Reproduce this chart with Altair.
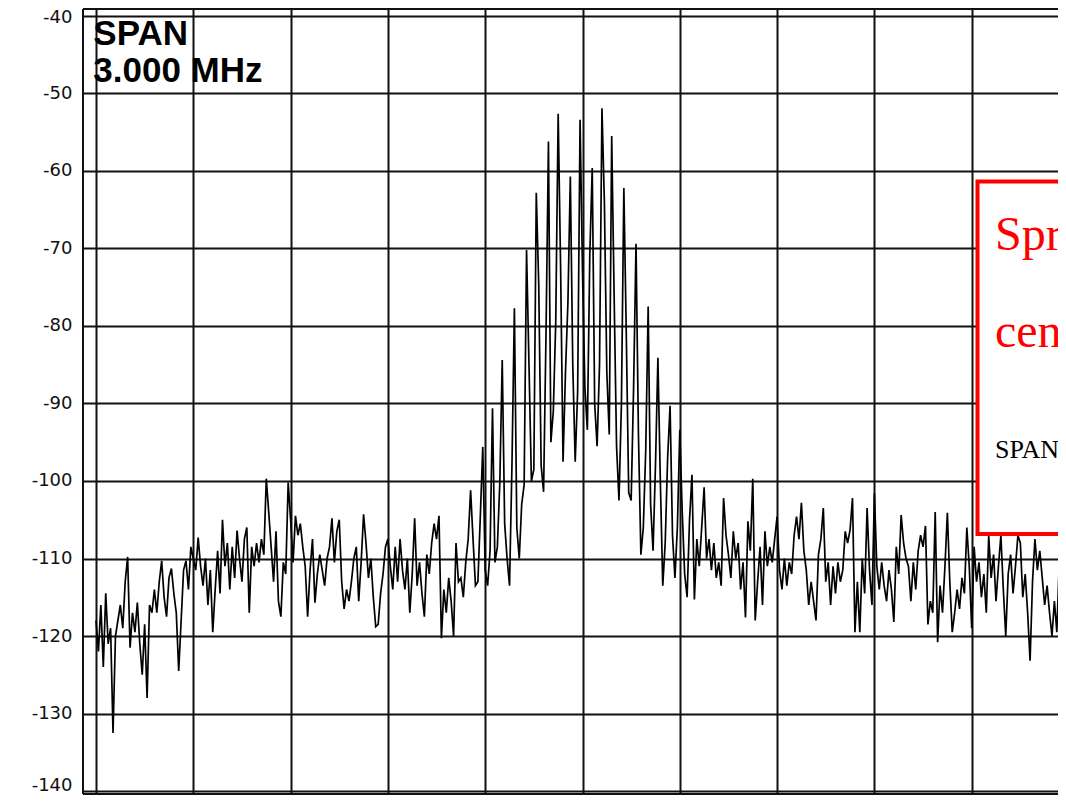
import altair as alt
import numpy as np
import pandas as pd

# Spectrum analyzer sweep: 401 points over a 3.000 MHz span (offset from centre, MHz)
span_start = -1.5
span_stop = 1.5
levels = [
    -118, -122, -116, -124, -114.5, -121, -119, -132.5, -120, -118,
    -116, -119, -113, -109.8, -121.5, -117, -119.5, -115.7, -121, -125,
    -118.5, -128, -116, -117, -114, -117, -113, -110.3, -115, -117.5,
    -112.5, -111.3, -114.5, -117, -124.5, -118, -111.5, -110.3, -114, -108.5,
    -110, -111.5, -107.3, -111, -113.5, -110, -116, -111.5, -119.5, -114,
    -109, -114.5, -105, -111, -108, -114, -108.5, -112.5, -106.4, -110,
    -113, -107.5, -106, -117, -108.5, -111, -108, -110.5, -107.5, -109.5,
    -99.7, -104, -108.5, -113, -106.5, -115.5, -117.5, -110.5, -112, -100.2,
    -105, -110.5, -104.5, -107, -105.5, -108.5, -111, -117.5, -111.5, -107.5,
    -115.7, -112, -109.5, -111.5, -113.5, -110, -108.5, -104.8, -110.5, -106.5,
    -105, -113, -116.5, -114, -115.5, -113, -110, -108.5, -115.5, -110.5,
    -104.3, -108, -112.5, -110, -115, -118.8, -118.5, -114.5, -112, -108.5,
    -107.5, -111, -114, -108.5, -113, -107.5, -111.5, -114, -110, -117,
    -112, -104.8, -113.5, -110.5, -114.5, -117.5, -109.5, -112, -108, -105.5,
    -107.5, -104.5, -120.3, -114, -117, -112.5, -115.5, -120, -108, -113,
    -112.5, -115, -110.5, -107.5, -101.2, -107.5, -113.5, -113, -104.5, -95.6,
    -111.5, -113.5, -109, -90.6, -110.5, -108.5, -100.3, -84.4, -105.5, -110,
    -113.5, -98, -77.7, -106, -110, -103, -100.5, -70.2, -85, -100,
    -98.5, -62.8, -74.5, -98, -101.4, -81, -56.2, -95, -91, -79.5,
    -52.6, -72.5, -97.5, -86, -77, -60.7, -85, -97.5, -88.5, -53.4,
    -73, -88, -93.4, -70.8, -59.6, -90, -95.5, -85, -51.9, -64,
    -86, -94, -55.5, -76, -95.5, -102.5, -90, -62.2, -81, -101.5,
    -102.5, -88, -69.4, -94, -109.5, -106, -96, -77.5, -103, -109,
    -98, -84.1, -100, -113.5, -108, -97, -90.3, -107, -112.5, -106,
    -93.4, -104, -112, -115, -105, -99.2, -115.3, -107.5, -111, -106,
    -100.8, -110, -107.5, -111.5, -108, -112.5, -110.5, -113.5, -102.2, -107,
    -109.5, -112.5, -106.5, -110, -108, -114, -110.5, -117.6, -105.2, -109,
    -99.7, -118, -113, -108.5, -116, -106.5, -111, -108.5, -110.5, -107.5,
    -104.6, -111.5, -114, -110, -113.5, -110.5, -112, -107, -104.6, -107.5,
    -102.8, -109, -111.5, -116, -113, -115.5, -118, -109.5, -107.5, -103.5,
    -113, -110.5, -116, -111, -114.5, -110.5, -113, -111.5, -106.5, -108,
    -106.3, -102.2, -119.5, -113, -119.5, -110, -114.5, -103.5, -111.5, -116,
    -101.6, -111, -114, -110.5, -113.5, -115.5, -111.5, -114, -118.2, -108.5,
    -112, -104.4, -108, -110, -111, -115.5, -110.5, -114, -109, -107,
    -108.5, -105.8, -118.5, -115.5, -117, -104, -120.8, -113.5, -117, -111,
    -104.1, -113, -119.5, -117, -114, -116.5, -112.5, -114.5, -106, -111,
    -119, -108.5, -113, -110.5, -115, -112, -117, -107.1, -112.5, -109.5,
    -115.5, -111, -107, -114, -120, -112, -109.5, -114.5, -111, -107,
    -108, -115, -112, -117, -123.2, -113, -107.5, -111.5, -109, -112.5,
    -116, -113.5, -117, -120, -115.5, -119.5, -110.5, -107.5, -114, -115.5,
    -112,
]
freqs = np.linspace(span_start, span_stop, len(levels))

y_ticks = [-40, -50, -60, -70, -80, -90, -100, -110, -120, -130, -140]
x_grid = [-1.5, -1.2, -0.9, -0.6, -0.3, 0.0, 0.3, 0.6, 0.9, 1.2]
span_lines = ["SPAN", "3.000 MHz"]
note_lines = ["Spread spectrum signal", "centered on the carrier", "SPAN 3.000 MHz"]

df = pd.DataFrame({"f": freqs, "dB": levels})

X_LO, X_HI = -1.5401, 1.4661
Y_LO, Y_HI = -140.387, -39.097
x_scale = alt.Scale(domain=[X_LO, X_HI], nice=False, zero=False)
y_scale = alt.Scale(domain=[Y_LO, Y_HI], nice=False, zero=False)

trace = alt.Chart(df).mark_line(color="black", strokeWidth=1.7, clip=True).encode(
    x=alt.X("f:Q", scale=x_scale,
            axis=alt.Axis(values=x_grid, labels=False, ticks=False, domain=False,
                          title=None, grid=True, gridColor="#111111", gridWidth=2, gridOpacity=1)),
    y=alt.Y("dB:Q", scale=y_scale,
            axis=alt.Axis(values=y_ticks, ticks=False, tickSize=0, domain=False, title=None,
                          grid=True, gridColor="#111111", gridWidth=2, gridOpacity=1,
                          labelFont="DejaVu Sans", labelFontSize=18, labelColor="#111111",
                          labelPadding=11, labelFlush=False, labelOverlap=False,
                          labelOffset={"condition": [
                              {"test": "datum.value == -140", "value": -5.5},
                              {"test": "datum.value == -40", "value": 1.5}],
                              "value": 0},
                          labelExpr="datum.value < 0 ? '-' + abs(datum.value) : '' + datum.value")),
)

one = pd.DataFrame({"k": [0]})

# outer frame (left, top, bottom) of the analyzer screen
frame_left = alt.Chart(one).mark_rule(color="#111111", strokeWidth=2).encode(
    x=alt.datum(X_LO), y=alt.datum(Y_LO), y2=alt.datum(Y_HI))
frame_top = alt.Chart(one).mark_rule(color="#111111", strokeWidth=2).encode(
    y=alt.datum(Y_HI), x=alt.datum(X_LO), x2=alt.datum(X_HI))
frame_bottom = alt.Chart(one).mark_rule(color="#111111", strokeWidth=2).encode(
    y=alt.datum(Y_LO), x=alt.datum(X_LO), x2=alt.datum(X_HI))

box = alt.Chart(one).mark_rect(
    fill="white", stroke="#ff0000", strokeWidth=4
).encode(
    x=alt.datum(1.2179), x2=alt.datum(1.9),
    y=alt.datum(-61.355), y2=alt.datum(-106.84),
)


def text_layer(s, x, y, **kw):
    return alt.Chart(pd.DataFrame({"t": [s]})).mark_text(
        align="left", baseline="alphabetic", **kw
    ).encode(x=alt.datum(x), y=alt.datum(y), text="t:N")


span1 = text_layer(span_lines[0], -1.5083, -43.74, font="Liberation Sans", fontWeight="bold",
                   fontSize=35, color="black")
span2 = text_layer(span_lines[1], -1.5083, -48.52, font="Liberation Sans", fontWeight="bold",
                   fontSize=35, color="black")
note1 = text_layer(note_lines[0], 1.2718, -70.19, font="Liberation Serif", fontSize=48, color="#ff0000")
note2 = text_layer(note_lines[1], 1.2718, -82.67, font="Liberation Serif", fontSize=48, color="#ff0000")
note3 = text_layer(note_lines[2], 1.2718, -97.07, font="Liberation Serif", fontSize=26, color="black")

chart = alt.layer(
    trace, frame_left, frame_top, frame_bottom, box, span1, span2, note1, note2, note3
).properties(
    width=975,
    height=785,
    autosize=alt.AutoSizeParams(type="none"),
    padding={"left": 75, "top": 1, "right": 0, "bottom": 1},
    background="white",
).configure_view(stroke=None)

chart.save("out.html", embed_options={"renderer": "svg", "actions": False})
